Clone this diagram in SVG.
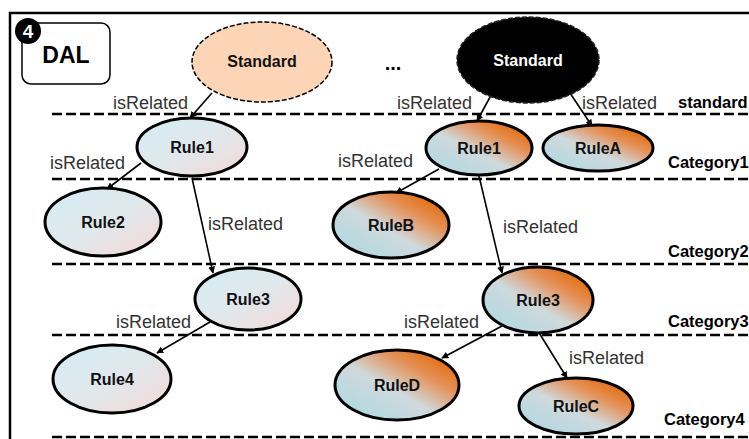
<svg xmlns="http://www.w3.org/2000/svg" width="749" height="439" viewBox="0 0 749 439">
  <style>
    .frame { fill: none; stroke: #000; stroke-width: 2.5; }
    .lane { stroke: #000; stroke-width: 2.5; stroke-dasharray: 10 4; fill: none; }
    .rule { stroke: #000; stroke-width: 3; }
    .cool { fill: url(#coolFill); }
    .warm { fill: url(#warmFill); }
    .node-label { font-family: "Liberation Sans", Arial, sans-serif; font-weight: bold; font-size: 16px; fill: #111; text-anchor: middle; }
    .edge-label { font-family: "Liberation Sans", Arial, sans-serif; font-size: 18px; fill: #333; }
    .lane-label { font-family: "Liberation Sans", Arial, sans-serif; font-weight: bold; font-size: 16.5px; fill: #000; }
    .edge { stroke: #000; stroke-width: 1.6; fill: none; marker-end: url(#arrow); }
  </style>
  <defs>
    <linearGradient id="coolFill" x1="0" y1="0" x2="1" y2="1">
      <stop offset="0" stop-color="#d4edf5"/>
      <stop offset="0.5" stop-color="#e0e8ec"/>
      <stop offset="1" stop-color="#f5d8d6"/>
    </linearGradient>
    <linearGradient id="warmFill" x1="0" y1="1" x2="1" y2="0">
      <stop offset="0" stop-color="#a8d8e4"/>
      <stop offset="0.45" stop-color="#cfd9dc"/>
      <stop offset="0.68" stop-color="#e4935a"/>
      <stop offset="0.88" stop-color="#e46c0a"/>
    </linearGradient>
    <marker id="arrow" viewBox="0 0 10 10" refX="9" refY="5" markerWidth="7" markerHeight="7" markerUnits="userSpaceOnUse" orient="auto">
      <path d="M0,0 L10,5 L0,10 z" fill="#000"/>
    </marker>
  </defs>

  <rect width="749" height="439" fill="#fff"/>

  <!-- outer frame (open to the right and bottom) -->
  <path class="frame" d="M10,439 L10,13 L749,13"/>

  <!-- category swimlane separators -->
  <g id="lanes">
    <line class="lane" x1="52" y1="114" x2="749" y2="114"/>
    <line class="lane" x1="52" y1="179" x2="749" y2="179"/>
    <line class="lane" x1="52" y1="264" x2="749" y2="264"/>
    <line class="lane" x1="52" y1="335" x2="749" y2="335"/>
    <line class="lane" x1="52" y1="437" x2="749" y2="437"/>
    <text class="lane-label" x="678" y="108">standard</text>
    <text class="lane-label" x="668" y="168">Category1</text>
    <text class="lane-label" x="668" y="257">Category2</text>
    <text class="lane-label" x="668" y="327">Category3</text>
    <text class="lane-label" x="664" y="425">Category4</text>
  </g>

  <!-- title box with step badge -->
  <g id="title">
    <rect x="22" y="23" width="88" height="61" rx="9" fill="#fff" stroke="#000" stroke-width="1.5"/>
    <text x="66" y="63" font-family="Liberation Sans, Arial, sans-serif" font-weight="bold" font-size="23" text-anchor="middle" fill="#000">DAL</text>
  </g>
  <g id="badge">
    <circle cx="28" cy="31" r="13" fill="#000"/>
    <text x="28" y="38" font-family="Liberation Sans, Arial, sans-serif" font-weight="bold" font-size="19" text-anchor="middle" fill="#fff">4</text>
  </g>

  <text x="393" y="70" font-family="Liberation Sans, Arial, sans-serif" font-weight="bold" font-size="20" text-anchor="middle" fill="#000">...</text>

  <!-- connectors -->
  <g id="connectors">
    <line class="edge" x1="212" y1="93" x2="190" y2="118"/>
    <line class="edge" x1="141" y1="163" x2="107" y2="189"/>
    <line class="edge" x1="192" y1="178" x2="213" y2="273"/>
    <line class="edge" x1="210" y1="322" x2="157" y2="353"/>
    <line class="edge" x1="495" y1="88" x2="477" y2="121"/>
    <line class="edge" x1="568" y1="90" x2="592" y2="126"/>
    <line class="edge" x1="439" y1="169" x2="396" y2="193"/>
    <line class="edge" x1="479" y1="176" x2="502" y2="273"/>
    <line class="edge" x1="502" y1="326" x2="442" y2="358"/>
    <line class="edge" x1="538" y1="331" x2="567" y2="378"/>

    <text class="edge-label" x="113" y="109">isRelated</text>
    <text class="edge-label" x="50" y="169">isRelated</text>
    <text class="edge-label" x="208" y="230">isRelated</text>
    <text class="edge-label" x="116" y="328">isRelated</text>
    <text class="edge-label" x="397" y="109">isRelated</text>
    <text class="edge-label" x="582" y="109">isRelated</text>
    <text class="edge-label" x="338" y="167">isRelated</text>
    <text class="edge-label" x="503" y="233">isRelated</text>
    <text class="edge-label" x="404" y="328">isRelated</text>
    <text class="edge-label" x="569" y="364">isRelated</text>
  </g>

  <!-- standards -->
  <g id="standard-left">
    <ellipse cx="262" cy="62" rx="70" ry="40" fill="#fbd5b5" stroke="#000" stroke-width="1.5" stroke-dasharray="5 2"/>
    <text class="node-label" x="262" y="67">Standard</text>
  </g>
  <g id="standard-right">
    <ellipse cx="528" cy="60" rx="71" ry="43" fill="#000" stroke="#222" stroke-width="1.5" stroke-dasharray="5 2"/>
    <text class="node-label" x="528" y="66" style="fill:#fff">Standard</text>
  </g>

  <!-- left hierarchy -->
  <g id="rule1-left">
    <ellipse class="rule cool" cx="192" cy="147" rx="55" ry="29"/>
    <text class="node-label" x="192" y="153">Rule1</text>
  </g>
  <g id="rule2">
    <ellipse class="rule cool" cx="103" cy="222" rx="58" ry="34"/>
    <text class="node-label" x="103" y="228">Rule2</text>
  </g>
  <g id="rule3-left">
    <ellipse class="rule cool" cx="248" cy="299" rx="53" ry="31"/>
    <text class="node-label" x="248" y="305">Rule3</text>
  </g>
  <g id="rule4">
    <ellipse class="rule cool" cx="112" cy="379" rx="59" ry="34"/>
    <text class="node-label" x="112" y="385">Rule4</text>
  </g>

  <!-- right hierarchy -->
  <g id="rule1-right">
    <ellipse class="rule warm" cx="479" cy="148" rx="53" ry="27"/>
    <text class="node-label" x="479" y="154">Rule1</text>
  </g>
  <g id="ruleA">
    <ellipse class="rule warm" cx="598" cy="148" rx="55" ry="23"/>
    <text class="node-label" x="598" y="154">RuleA</text>
  </g>
  <g id="ruleB">
    <ellipse class="rule warm" cx="391" cy="225" rx="58" ry="33"/>
    <text class="node-label" x="391" y="231">RuleB</text>
  </g>
  <g id="rule3-right">
    <ellipse class="rule warm" cx="538" cy="300" rx="55" ry="33"/>
    <text class="node-label" x="538" y="306">Rule3</text>
  </g>
  <g id="ruleD">
    <ellipse class="rule warm" cx="397" cy="385" rx="62" ry="35"/>
    <text class="node-label" x="397" y="391">RuleD</text>
  </g>
  <g id="ruleC">
    <ellipse class="rule warm" cx="576" cy="406" rx="57" ry="28"/>
    <text class="node-label" x="576" y="412">RuleC</text>
  </g>
</svg>
